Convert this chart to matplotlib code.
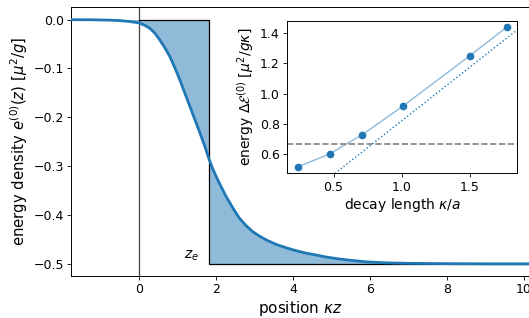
import matplotlib
matplotlib.use("Agg")
import matplotlib.pyplot as plt
import numpy as np

# main curve: energy density vs position
z_pos = [-1.77, -1.2, -0.8, -0.5, -0.25, 0.0, 0.14, 0.28, 0.41, 0.54, 0.67, 0.80,
         0.93, 1.06, 1.19, 1.32, 1.45, 1.58, 1.70, 1.81, 1.90, 2.00, 2.13, 2.26,
         2.43, 2.60, 2.78, 2.95, 3.12, 3.30, 3.55, 3.81, 4.07, 4.33, 4.60, 4.85,
         5.10, 5.40, 5.65, 5.90, 6.40, 7.0, 8.0, 9.0, 10.6]
e_dens = [-0.0003, -0.0006, -0.0012, -0.0022, -0.0040, -0.0070, -0.0115, -0.0180,
          -0.0280, -0.0420, -0.0580, -0.0760, -0.0990, -0.1240, -0.1510, -0.1780,
          -0.2050, -0.2320, -0.2580, -0.2840, -0.3030, -0.3210, -0.3420, -0.3620,
          -0.3850, -0.4060, -0.4220, -0.4340, -0.4430, -0.4510, -0.4600, -0.4670,
          -0.4730, -0.4780, -0.4820, -0.4860, -0.4890, -0.4920, -0.4940, -0.4960,
          -0.4980, -0.4990, -0.4997, -0.5000, -0.5000]
z_e = 1.81
e_bulk = -0.5

# inset: energy vs decay length
kappa_a = [0.24, 0.47, 0.71, 1.01, 1.50, 1.77]
energy = [0.516, 0.600, 0.728, 0.918, 1.251, 1.440]
asym_x = [0.0, 2.0]
asym_y = [0.109, 1.531]
ref_level = 2 / 3

plt.rcParams['xtick.major.size'] = 2.6
plt.rcParams['ytick.major.size'] = 2.6
plt.rcParams['xtick.major.pad'] = 2.6
plt.rcParams['ytick.major.pad'] = 2.6
plt.rcParams['xtick.major.width'] = 0.6
plt.rcParams['ytick.major.width'] = 0.6
plt.rcParams['axes.linewidth'] = 0.7

fig = plt.figure(figsize=(5.29, 3.18), dpi=100)
ax = fig.add_axes([0.1342, 0.132, 1.0 - 0.1342, 0.845])
ax.spines['right'].set_visible(False)

z = np.array(z_pos)
e = np.array(e_dens)
fillc = '#8fbbd9'
ax.fill_between(z, e, 0, where=z <= z_e, color=fillc, lw=0, interpolate=True)
ax.fill_between(z, e, e_bulk, where=z >= z_e, color=fillc, lw=0, interpolate=True)
ax.axvline(0, color='#444444', lw=0.9, zorder=1)
ax.plot([0, z_e, z_e, 10.6], [0, 0, e_bulk, e_bulk], color='k', lw=0.9, zorder=2)
ax.plot(z, e, color='#1f77b4', lw=2, zorder=3)
ax.text(z_e - 0.25, e_bulk + 0.002, r'$z_e$', ha='right', va='bottom', fontsize=10)

ax.set_xlim(-1.77, 10.13)
ax.set_ylim(-0.525, 0.025)
ax.set_xticks([0, 2, 4, 6, 8, 10])
ax.set_yticks([0.0, -0.1, -0.2, -0.3, -0.4, -0.5])
ax.tick_params(labelsize=9)
ax.set_xlabel(r'position $\kappa z$', fontsize=11, labelpad=2.0)
ax.set_ylabel(r'energy density $e^{(0)}(z)$ [$\mu^2/g$]', fontsize=10.7, labelpad=2.5)

ins = fig.add_axes([0.5425, 0.455, 0.4354, 0.479])
ins.plot(kappa_a, energy, color='#1f77b4', alpha=0.5, lw=1)
ins.plot(kappa_a, energy, 'o', color='#1f77b4', ms=4.5)
ins.plot(asym_x, asym_y, ':', color='#1f77b4', lw=1)
ins.axhline(ref_level, color='gray', ls='--', lw=1.2)
ins.set_xlim(0.158, 1.848)
ins.set_ylim(0.472, 1.481)
ins.set_xticks([0.5, 1.0, 1.5])
ins.set_yticks([0.6, 0.8, 1.0, 1.2, 1.4])
ins.tick_params(labelsize=9)
ins.set_xlabel(r'decay length $\kappa/a$', fontsize=10, labelpad=1.5)
ins.set_ylabel(r'energy $\Delta\mathcal{E}^{(0)}$ [$\mu^2/g\kappa$]', fontsize=10, labelpad=2.5)

fig.savefig('out.png', dpi=100)
